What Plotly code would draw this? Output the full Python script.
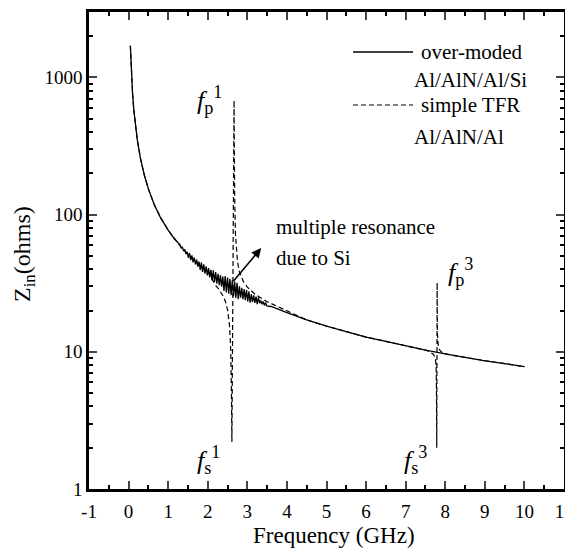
import plotly.graph_objects as go
import math

# over-moded Al/AlN/Al/Si (solid) - smooth low-frequency part
freq_low = [0.045, 0.06, 0.08, 0.1, 0.13, 0.17, 0.22, 0.3, 0.4, 0.5, 0.65, 0.8, 1.0, 1.15]
z_low = [1700, 1280, 960, 770, 590, 453, 350, 257, 193, 154, 118, 96, 77, 67]

# multiple resonance due to Si (ripple band)
freq_ripple = [1.30, 1.33, 1.36, 1.39, 1.42, 1.45, 1.48, 1.51, 1.54, 1.57, 1.60, 1.63,
               1.66, 1.69, 1.72, 1.75, 1.78, 1.81, 1.84, 1.87, 1.90, 1.93, 1.96, 1.99,
               2.02, 2.05, 2.08, 2.11, 2.14, 2.17, 2.20, 2.23, 2.26, 2.29, 2.32, 2.35,
               2.38, 2.41, 2.44, 2.47, 2.50, 2.53, 2.56, 2.59, 2.62, 2.65, 2.68, 2.71,
               2.74, 2.77, 2.80, 2.83, 2.86, 2.89, 2.92, 2.95, 2.98, 3.01, 3.04, 3.07,
               3.10, 3.13, 3.16, 3.19, 3.22, 3.25, 3.28, 3.31, 3.34, 3.37, 3.40, 3.43,
               3.46, 3.49]
z_ripple = [60.2, 57.0, 57.7, 54.3, 55.9, 51.5, 53.6, 48.4, 52.5, 46.6, 50.5, 44.9,
            48.7, 43.3, 47.0, 41.8, 45.4, 39.6, 44.8, 38.3, 43.4, 37.1, 42.0, 36.0,
            40.8, 34.9, 39.6, 33.2, 39.2, 32.3, 38.2, 31.4, 37.1, 30.6, 36.2, 29.8,
            35.3, 27.8, 35.7, 27.1, 34.8, 26.5, 34.0, 25.9, 33.2, 25.3, 32.5, 24.7,
            31.8, 24.2, 30.0, 24.8, 29.3, 24.2, 28.7, 23.8, 28.2, 23.3, 27.6, 22.8,
            26.3, 23.1, 25.8, 22.7, 25.3, 22.3, 24.9, 22.6, 23.7, 22.2, 23.3, 21.8,
            22.9, 21.6]

freq_high = [3.6, 4.0, 4.5, 5.0, 5.5, 6.0, 6.5, 7.0, 7.5, 8.0, 8.5, 9.0, 9.5, 10.0]
z_high = [21.4, 19.3, 17.1, 15.4, 14.0, 12.8, 11.9, 11.0, 10.3, 9.65, 9.1, 8.6, 8.2, 7.8]

# simple TFR Al/AlN/Al (dashed)
freq_tfr = [0.045, 0.06, 0.08, 0.1, 0.13, 0.17, 0.22, 0.3, 0.4, 0.5, 0.65, 0.8, 1.0,
            1.3, 1.6, 2.0, 2.2, 2.3, 2.4, 2.45, 2.5, 2.55, 2.58, 2.6, 2.61, 2.62,
            2.635, 2.65, 2.66, 2.665, 2.67, 2.68, 2.7, 2.75, 2.8, 2.9, 3.0, 3.2, 3.5,
            4.0, 4.5, 5.0, 5.5, 6.0, 6.5, 7.0, 7.5, 7.6, 7.7, 7.75, 7.77, 7.78, 7.785,
            7.795, 7.80, 7.82, 7.85, 7.9, 8.0, 8.5, 9.0, 9.5, 10.0]
z_tfr = [1700, 1280, 960, 770, 590, 453, 350, 257, 193, 154, 118, 96, 77,
         59.2, 48, 38.5, 30.5, 28.1, 25.1, 23.1, 20.3, 15.6, 10.4, 4.5, 2.2, 6.5,
         24.1, 77, 266, 680, 340, 133, 72, 45.6, 38.2, 32.5, 29.6, 26.2, 23.2,
         19.9, 17.1, 15.4, 14.0, 12.8, 11.9, 11.0, 10.3, 10.0, 9.6, 9.0, 7.6, 4.5, 2.0,
         32, 14, 11.3, 10.4, 10.0, 9.65, 9.1, 8.6, 8.2, 7.8]

x_ticks = list(range(-1, 12))
x_labels = [str(v) for v in x_ticks]
y_ticks = [1, 10, 100, 1000]
y_minor = [m * d for d in (1, 10, 100, 1000) for m in range(2, 10) if m * d <= 3000]

SERIF = "Liberation Serif"

# plot area as it should land on the page (left, right, top, bottom);
# the page body adds an 8px offset, so the figure is sized/margined to compensate
L, R, T, B = 89, 564, 12, 489
OFF = 8
W, H = 573 - OFF, 549 - OFF


def px(x):
    return (x - L) / (R - L)


def py(y):
    return (B - y) / (B - T)


fig = go.Figure()
fig.add_trace(go.Scatter(x=freq_tfr, y=z_tfr, mode="lines",
                         line=dict(color="black", width=1.2, dash="5px,3px"),
                         showlegend=False))
fig.add_trace(go.Scatter(x=freq_low + freq_ripple + freq_high,
                         y=z_low + z_ripple + z_high, mode="lines",
                         line=dict(color="black", width=1.3),
                         showlegend=False))

annotations = []
# legend
fig.add_shape(type="line", xref="paper", yref="paper", x0=px(353), x1=px(413),
              y0=py(52), y1=py(52), line=dict(color="black", width=1.6))
fig.add_shape(type="line", xref="paper", yref="paper", x0=px(353), x1=px(413),
              y0=py(105), y1=py(105), line=dict(color="black", width=1.2, dash="5px,3px"))
for txt, x0, y0 in [("over-moded", 419, 52), ("Al/AlN/Al/Si", 412, 80),
                    ("simple TFR", 419, 105), ("Al/AlN/Al", 412, 137)]:
    annotations.append(dict(xref="paper", yref="paper", x=px(x0), y=py(y0), text=txt,
                            showarrow=False, xanchor="left", yanchor="middle",
                            font=dict(family=SERIF, size=21, color="black")))

# resonance labels
for txt, x0, y0 in [("<i>f</i><sub>p</sub><sup>1</sup>", 195, 100),
                    ("<i>f</i><sub>s</sub><sup>1</sup>", 195, 460),
                    ("<i>f</i><sub>s</sub><sup>3</sup>", 402, 460),
                    ("<i>f</i><sub>p</sub><sup>3</sup>", 446, 272)]:
    annotations.append(dict(xref="paper", yref="paper", x=px(x0), y=py(y0), text=txt,
                            showarrow=False, xanchor="left", yanchor="middle",
                            font=dict(family=SERIF, size=26, color="black")))

annotations.append(dict(xref="paper", yref="paper", x=px(274), y=py(227),
                        text="multiple resonance", showarrow=False, xanchor="left",
                        yanchor="middle", font=dict(family=SERIF, size=21, color="black")))
annotations.append(dict(xref="paper", yref="paper", x=px(274), y=py(258),
                        text="due to Si", showarrow=False, xanchor="left",
                        yanchor="middle", font=dict(family=SERIF, size=21, color="black")))
annotations.append(dict(x=3.35, y=math.log10(57), ax=2.62, ay=math.log10(32),
                        xref="x", yref="y", axref="x", ayref="y", text="",
                        showarrow=True, arrowhead=2, arrowsize=1.2, arrowwidth=1.6,
                        arrowcolor="black"))

# axis titles
annotations.append(dict(xref="paper", yref="paper", x=px(334), y=py(535),
                        text="Frequency (GHz)", showarrow=False, xanchor="center",
                        yanchor="middle", font=dict(family=SERIF, size=23, color="black")))
annotations.append(dict(xref="paper", yref="paper", x=px(24), y=py(254),
                        text="Z<sub>in</sub>(ohms)", showarrow=False, textangle=-90,
                        xanchor="center", yanchor="middle",
                        font=dict(family=SERIF, size=24, color="black")))

fig.update_layout(
    width=W, height=H,
    margin=dict(l=L - OFF, r=573 - R, t=T - OFF, b=549 - B, pad=0),
    paper_bgcolor="white", plot_bgcolor="white",
    showlegend=False,
    annotations=annotations,
    xaxis=dict(range=[-1, 11], tickvals=x_ticks, ticktext=x_labels, ticks="inside",
               ticklen=8, tickwidth=2, ticklabelstandoff=3, ticklabeloverflow="allow",
               showline=True, linewidth=2.5, linecolor="black", mirror="ticks",
               showgrid=False, zeroline=False, automargin=False,
               tickfont=dict(family=SERIF, size=19, color="black"),
               minor=dict(dtick=0.5, ticks="inside", ticklen=4, tickwidth=2, tickcolor="black")),
    yaxis=dict(type="log", range=[0, math.log10(3000)], tickvals=y_ticks,
               ticktext=[str(v) for v in y_ticks], ticks="inside", ticklen=8, tickwidth=2,
               showline=True, linewidth=2.5, linecolor="black", mirror="ticks",
               showgrid=False, zeroline=False, automargin=False,
               tickfont=dict(family=SERIF, size=19, color="black"),
               minor=dict(tickvals=y_minor, ticks="inside", ticklen=4, tickwidth=2, tickcolor="black")),
)

fig.write_html("out.html")
